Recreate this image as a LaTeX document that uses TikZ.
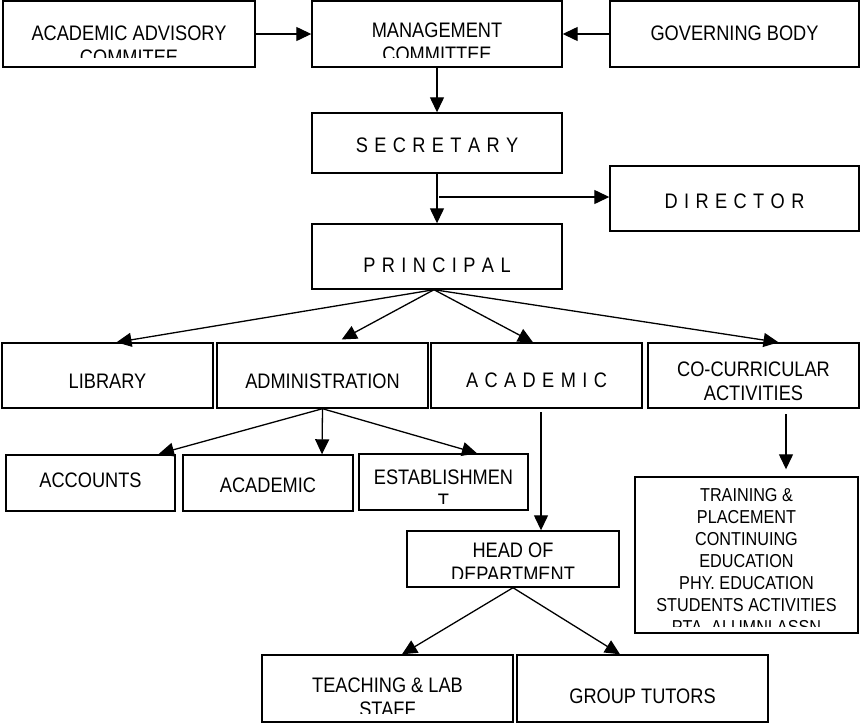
\documentclass[tikz,border=0pt]{standalone}
\usepackage{fontspec}
\setmainfont{Liberation Sans}[FakeStretch=0.867]
\usetikzlibrary{arrows.meta}

\newcommand\orgfont{\fontsize{21}{24.5}\selectfont}
\newcommand\spacedfont{\orgfont\spaceskip=6.4pt\relax}
\newcommand\listfont{\fontsize{18.7}{22}\selectfont}

\begin{document}
\begin{tikzpicture}[x=1pt,y=-1pt,
  orgbox/.style={draw,line width=1.4pt,inner sep=0pt},
  boxtext/.style n args={4}{path picture={
    \clip ([yshift=#3]path picture bounding box.south west) rectangle (path picture bounding box.north east);
    \node[inner sep=0pt,minimum width=0pt,minimum height=0pt,align=center,anchor=north,font=#4] at ([yshift=-#2]path picture bounding box.north) {#1};}},
  link/.style={line width=1.3pt,-{Triangle[length=15pt,width=14pt]}}]
\useasboundingbox (0,0) rectangle (860,723);
% top row
\node[orgbox,minimum width=252,minimum height=66,boxtext={ACADEMIC ADVISORY\\COMMITEE}{24}{10}{\orgfont}] (aac) at (129,34) {};
\node[orgbox,minimum width=250,minimum height=66,boxtext={MANAGEMENT\\COMMITTEE}{21}{10}{\orgfont}] (mc) at (437,34) {};
\node[orgbox,minimum width=249,minimum height=66,boxtext={GOVERNING BODY}{24}{2}{\orgfont}] (gb) at (734.5,34) {};
% spine
\node[orgbox,minimum width=250,minimum height=60,boxtext={S E C R E T A R Y}{24}{2}{\spacedfont}] (sec) at (437,143) {};
\node[orgbox,minimum width=249,minimum height=65,boxtext={D I R E C T O R}{27}{2}{\spacedfont}] (dir) at (734.5,198.5) {};
\node[orgbox,minimum width=250,minimum height=65,boxtext={P R I N C I P A L}{33}{2}{\spacedfont}] (pri) at (437,256.5) {};
% sections
\node[orgbox,minimum width=211,minimum height=65,boxtext={LIBRARY}{30}{2}{\orgfont}] (lib) at (107.5,375.5) {};
\node[orgbox,minimum width=211,minimum height=65,boxtext={ADMINISTRATION}{30}{2}{\orgfont}] (adm) at (322.5,375.5) {};
\node[orgbox,minimum width=211,minimum height=65,boxtext={A C A D E M I C}{29}{2}{\spacedfont}] (aca) at (536.5,375.5) {};
\node[orgbox,minimum width=211,minimum height=65,boxtext={CO-CURRICULAR\\ACTIVITIES}{18}{2}{\orgfont}] (ccr) at (753.5,375.5) {};
% administration
\node[orgbox,minimum width=169,minimum height=56,boxtext={ACCOUNTS}{17}{2}{\orgfont}] (acc) at (90.5,483) {};
\node[orgbox,minimum width=170,minimum height=56,boxtext={ACADEMIC}{22}{2}{\orgfont}] (acd) at (268,483) {};
\node[orgbox,minimum width=169,minimum height=56,boxtext={ESTABLISHMEN\\T}{15}{7}{\orgfont}] (est) at (443.5,482) {};
% academic
\node[orgbox,minimum width=212,minimum height=56,boxtext={HEAD OF\\DEPARTMENT}{11}{9}{\orgfont}] (hod) at (513,559) {};
\node[orgbox,minimum width=251,minimum height=67,boxtext={TEACHING \& LAB\\STAFF}{22}{9}{\orgfont}] (tch) at (387.5,688.5) {};
\node[orgbox,minimum width=251,minimum height=67,boxtext={GROUP TUTORS}{33}{2}{\orgfont}] (grp) at (642.5,688.5) {};
% co-curricular
\node[orgbox,minimum width=223,minimum height=156,boxtext={TRAINING \&\\PLACEMENT\\CONTINUING\\EDUCATION\\PHY. EDUCATION\\STUDENTS ACTIVITIES\\PTA, ALUMNI ASSN}{11}{7}{\listfont}] (trn) at (746.5,555) {};
% connectors
\draw[link] (aac) -- (mc);
\draw[link] (gb) -- (mc);
\draw[link] (mc) -- (sec);
\draw[link] (sec) -- (pri);
\coordinate (split) at (439,197);
\draw[link] (split) -- (split -| dir.west);
\draw[link] ([xshift=-3]pri.south) -- ([xshift=9]lib.north);
\draw[link,shorten >=6pt] ([xshift=-3]pri.south) -- ([xshift=14]adm.north);
\draw[link] ([xshift=-3]pri.south) -- ([xshift=-3.5]aca.north);
\draw[link] ([xshift=-3]pri.south) -- ([xshift=25]ccr.north);
\draw[link,shorten >=2pt] (adm.south) -- ([xshift=66.5]acc.north);
\draw[link] (adm.south) -- ([xshift=54]acd.north);
\draw[link] (adm.south) -- ([xshift=33.5]est.north);
\coordinate (acadrop) at (541,412);
\draw[link] (acadrop) -- (acadrop |- hod.north);
\coordinate (ccrdrop) at (786,414);
\draw[link,shorten >=7pt] (ccrdrop) -- (ccrdrop |- trn.north);
\draw[link] (hod.south) -- ([xshift=14.5]tch.north);
\draw[link] (hod.south) -- ([xshift=-22.5]grp.north);
\end{tikzpicture}
\end{document}
